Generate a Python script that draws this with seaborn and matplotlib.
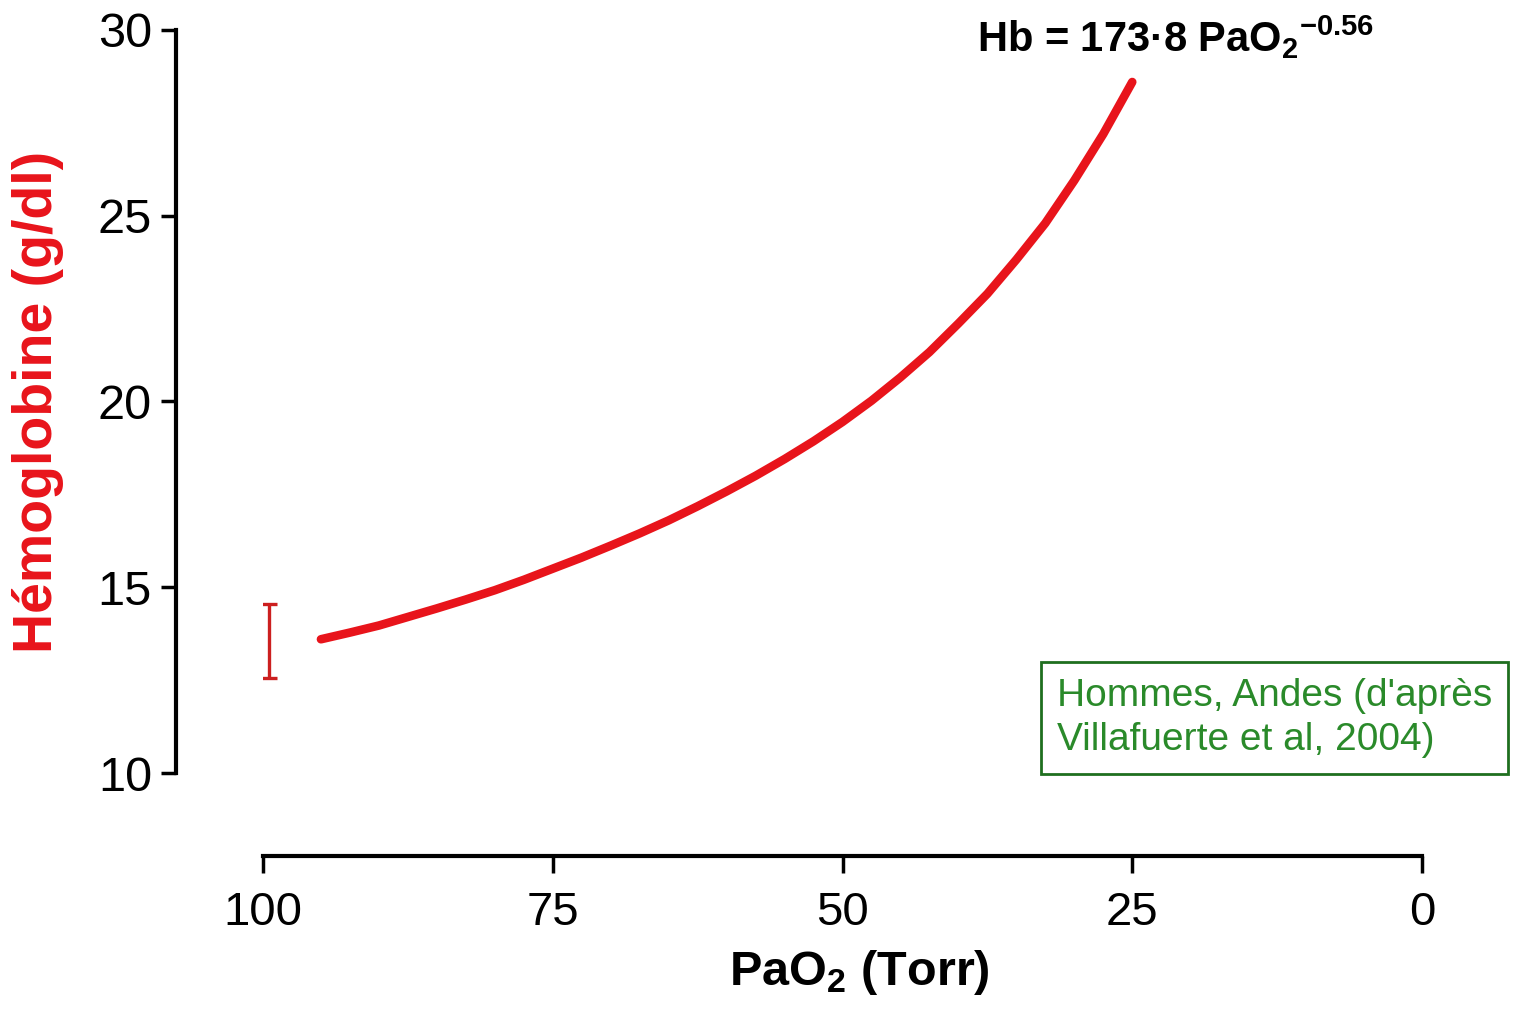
import matplotlib
matplotlib.use("Agg")
import numpy as np
import pandas as pd
import matplotlib.pyplot as plt
import seaborn as sns

sns.set_style("ticks")
plt.rcParams["font.family"] = ["Liberation Sans", "DejaVu Sans"]
plt.rcParams["mathtext.default"] = "regular"
plt.rcParams["text.color"] = "black"

# %%
# values
pao2 = [95, 92.5, 90, 87.5, 85, 82.5, 80, 77.5, 75, 72.5, 70, 67.5, 65, 62.5, 60,
        57.5, 55, 52.5, 50, 47.5, 45, 42.5, 40, 37.5, 35, 32.5, 30, 27.5, 25]
hb = [13.6, 13.78, 13.97, 14.2, 14.43, 14.67, 14.92, 15.2, 15.5, 15.8, 16.12, 16.45, 16.8, 17.18, 17.58,
      18.0, 18.45, 18.93, 19.45, 20.02, 20.65, 21.33, 22.1, 22.9, 23.82, 24.8, 25.95, 27.2, 28.6]
err_x = [99.5]
err_y = [13.55]
err_half = [1.0]
xticks = [100, 75, 50, 25, 0]
yticks = [10, 15, 20, 25, 30]

df = pd.DataFrame({"PaO2": pao2, "Hb": hb})

# %%
fig = plt.figure(figsize=(15.14, 10.13), dpi=100)
ax = fig.add_axes([263 / 1514, (1013 - 773) / 1013, (1422 - 263) / 1514, (773 - 30) / 1013])

sns.lineplot(data=df, x="PaO2", y="Hb", ax=ax, color="#e8141b", lw=6.2, solid_capstyle="round",
             solid_joinstyle="round")
ax.errorbar(err_x, err_y, yerr=err_half, fmt="none", ecolor="#cc1f1f", elinewidth=2.4, capsize=6, capthick=2.4)

ax.set_xlim(100, 0)
ax.set_ylim(10, 30)
ax.set_xticks(xticks)
ax.set_yticks(yticks)

for s in ["top", "right"]:
    ax.spines[s].set_visible(False)
ax.spines["left"].set_position(("outward", 63))
ax.spines["bottom"].set_position(("outward", 60))
for s in ["left", "bottom"]:
    ax.spines[s].set_linewidth(3)
    ax.spines[s].set_color("black")
ax.tick_params(axis="y", left=True, length=11, width=2.5, pad=6, colors="black", labelsize=35)
ax.tick_params(axis="x", bottom=True, length=12, width=2.5, pad=13, colors="black", labelsize=34)

ax.set_ylabel("Hémoglobine (g/dl)", fontsize=40, fontweight="bold", color="#e8141b", va="center")
ax.yaxis.set_label_coords(-0.194, 0.5)
ax.set_xlabel("PaO$_2$ (Torr)", fontsize=35, fontweight="bold", va="top", color="black")
ax.xaxis.set_label_coords(0.515, -0.236)

ax.text(21.3, 29.8, "Hb = 173·8 PaO$_2$$^{-0.56}$", fontsize=30, fontweight="bold",
        ha="center", va="center", color="black", clip_on=False)

ax.text(0.685, 0.074, "Hommes, Andes (d'après\nVillafuerte et al, 2004)", transform=ax.transAxes,
        fontsize=28, color="#2a8a2a", ha="left", va="center", linespacing=1.3, clip_on=False,
        bbox=dict(boxstyle="square,pad=0.4", fc="white", ec="#1f6f1f", lw=2))

fig.savefig("out.png", dpi=100)
